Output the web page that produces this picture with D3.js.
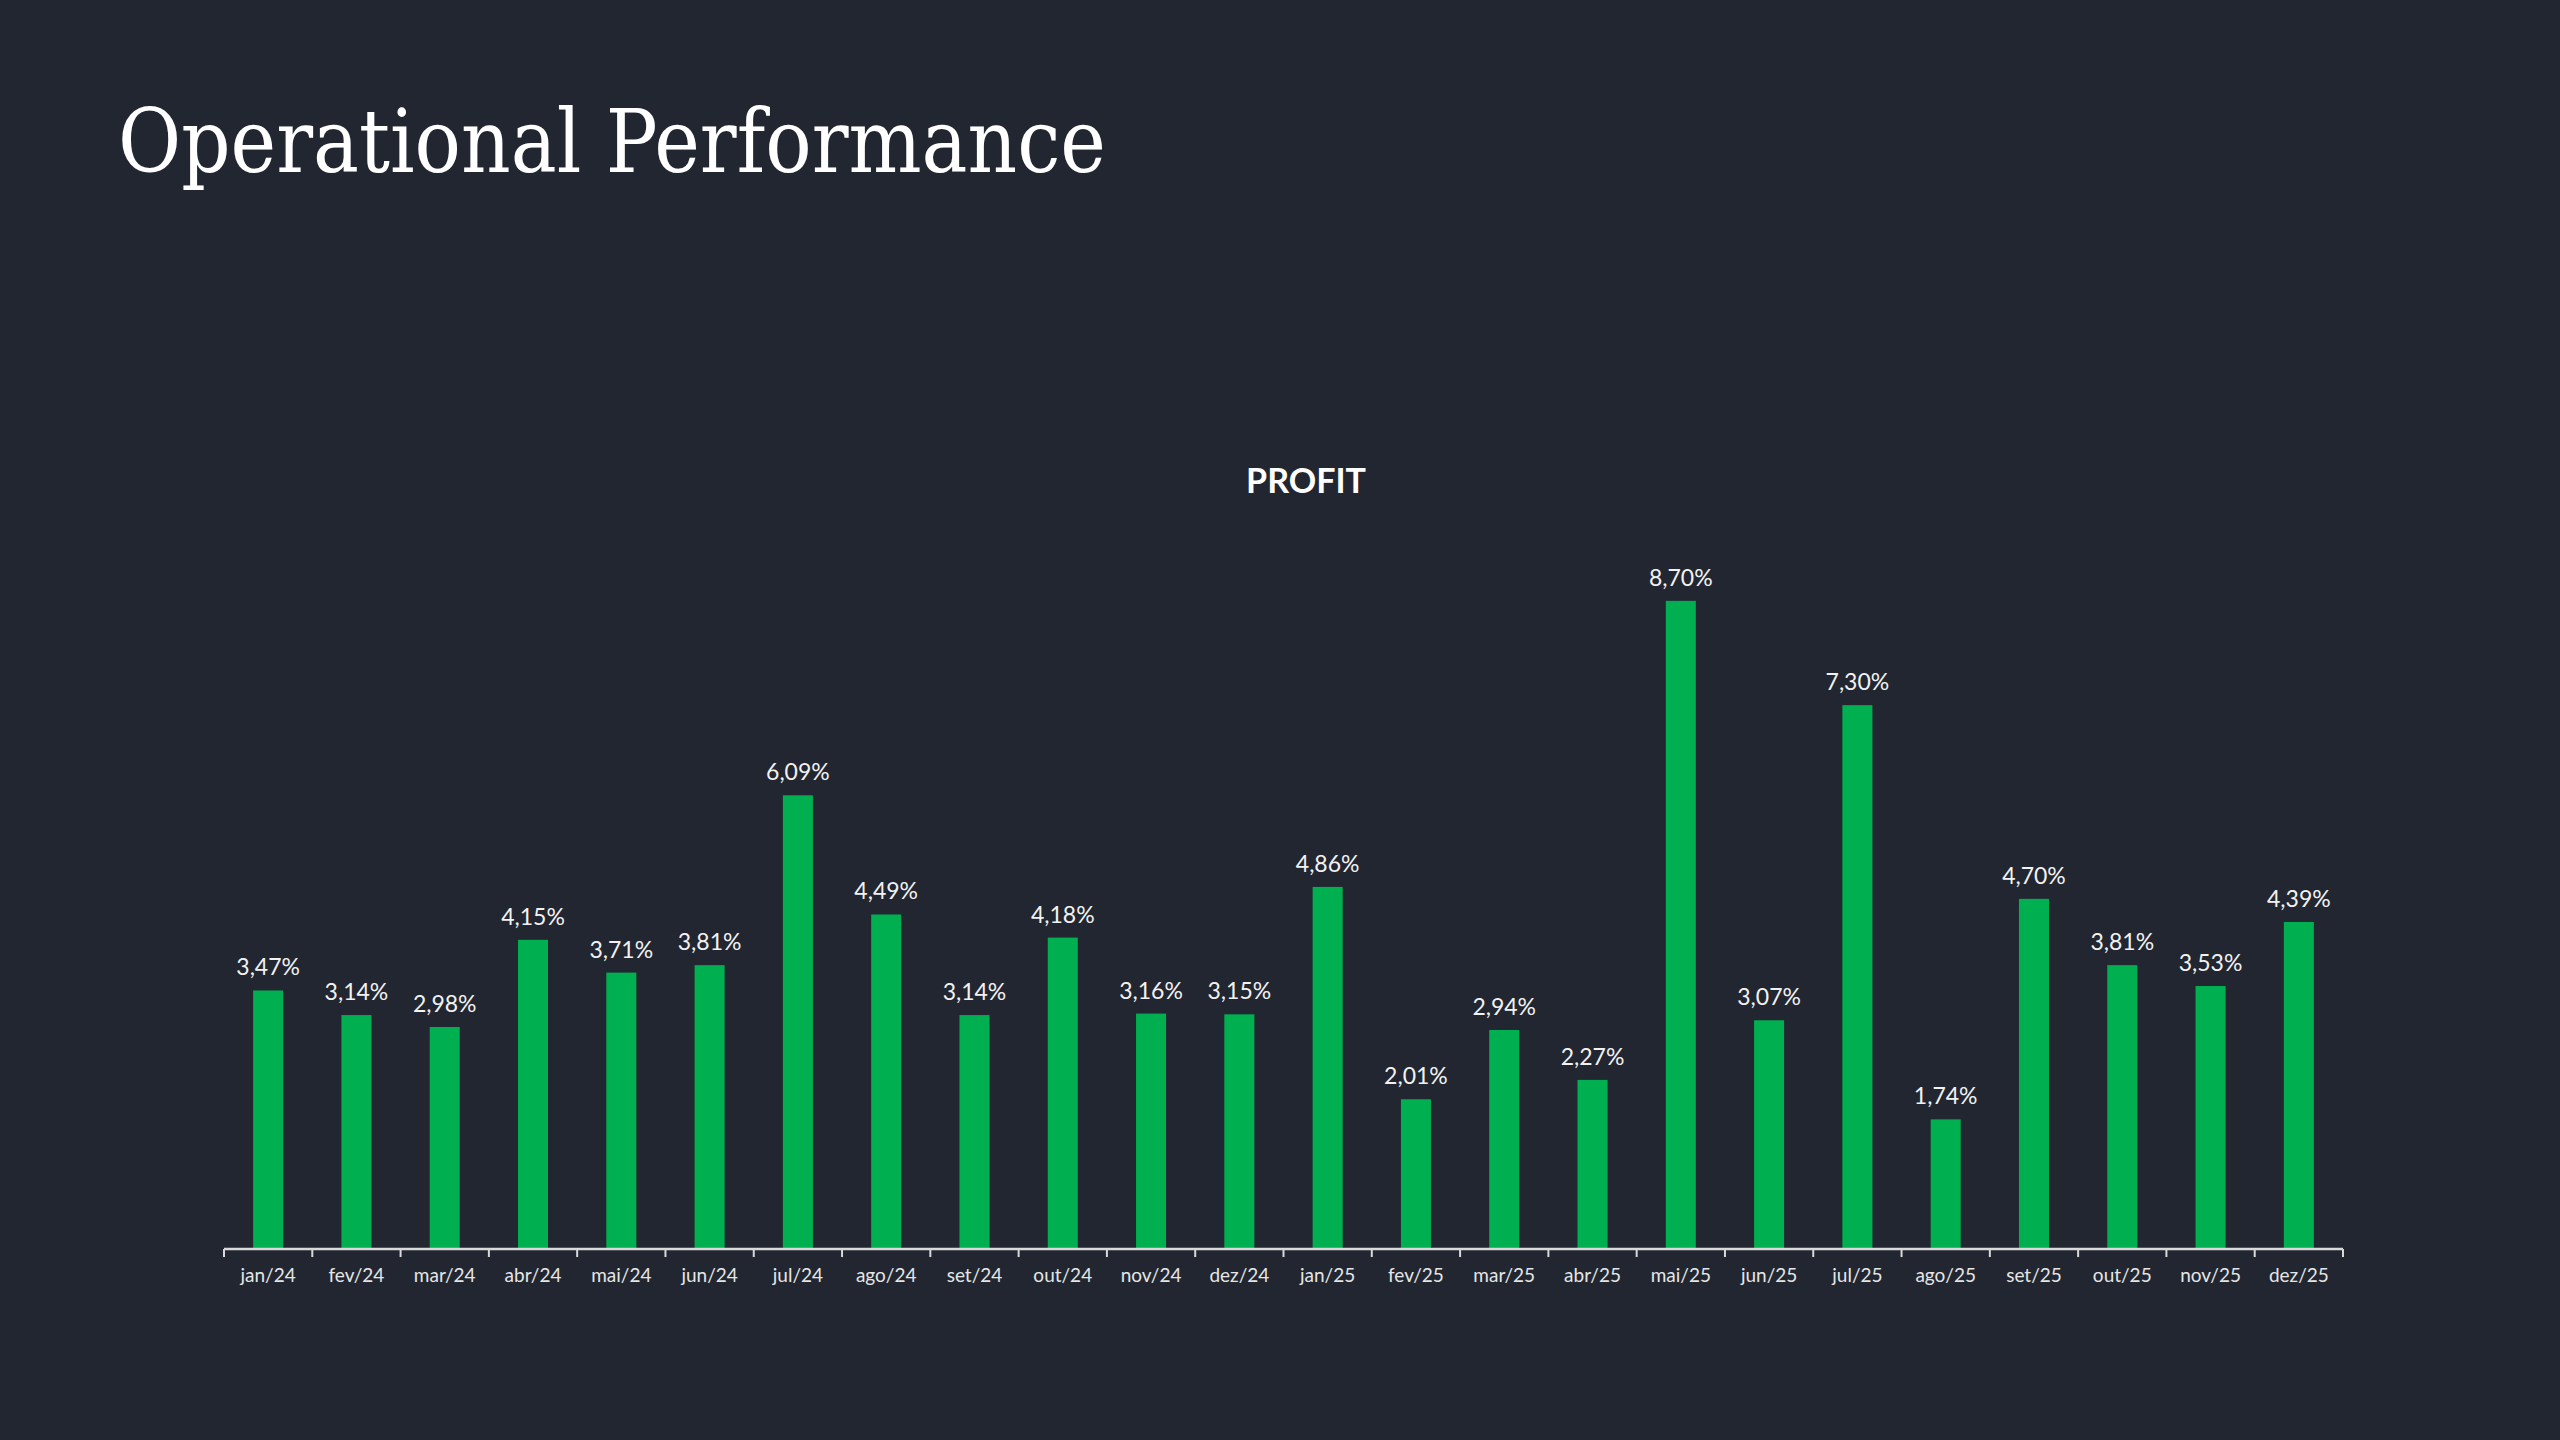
<!DOCTYPE html>
<html>
<head>
<meta charset="utf-8">
<script src="https://cdn.jsdelivr.net/npm/d3@7"></script>
<style>
  html, body { margin: 0; padding: 0; background: #212631; }
  svg { display: block; }
</style>
</head>
<body>
<div id="chart"></div>
<script>
const categories = [
  "jan/24", "fev/24", "mar/24", "abr/24", "mai/24", "jun/24",
  "jul/24", "ago/24", "set/24", "out/24", "nov/24", "dez/24",
  "jan/25", "fev/25", "mar/25", "abr/25", "mai/25", "jun/25",
  "jul/25", "ago/25", "set/25", "out/25", "nov/25", "dez/25"
];
const profit = [
  3.47, 3.14, 2.98, 4.15, 3.71, 3.81,
  6.09, 4.49, 3.14, 4.18, 3.16, 3.15,
  4.86, 2.01, 2.94, 2.27, 8.70, 3.07,
  7.30, 1.74, 4.70, 3.81, 3.53, 4.39
];
const yDomain = [0, 10];

const width = 2560;
const height = 1440;
const plot = { left: 224, right: 2343, bottom: 1249, top: 504 };

const svg = d3.select("#chart")
  .append("svg")
  .attr("width", width)
  .attr("height", height);

svg.append("rect")
  .attr("width", width)
  .attr("height", height)
  .attr("fill", "#212631");

// page title
svg.append("text")
  .attr("x", 118)
  .attr("y", 172)
  .attr("fill", "#ffffff")
  .style("font-family", "'DejaVu Serif', serif")
  .style("font-size", "88px")
  .attr("textLength", 988)
  .attr("lengthAdjust", "spacingAndGlyphs")
  .text("Operational Performance");

// chart title
svg.append("text")
  .attr("x", 1306)
  .attr("y", 493)
  .attr("text-anchor", "middle")
  .attr("fill", "#ffffff")
  .style("font-family", "Lato, 'Open Sans', sans-serif")
  .style("font-weight", "bold")
  .style("font-size", "34px")
  .text("PROFIT");

const x = d3.scaleBand()
  .domain(categories)
  .range([plot.left, plot.right])
  .padding(0);

const y = d3.scaleLinear()
  .domain(yDomain)
  .range([plot.bottom, plot.top]);

const barW = x.bandwidth() * 0.34;
const data = categories.map((c, i) => ({ name: c, value: profit[i] }));

svg.selectAll(".bar")
  .data(data)
  .enter()
  .append("rect")
  .attr("class", "bar")
  .attr("x", (d) => x(d.name) + (x.bandwidth() - barW) / 2)
  .attr("width", barW)
  .attr("y", (d) => y(d.value))
  .attr("height", (d) => y(0) - y(d.value))
  .attr("fill", "#00b050");

svg.selectAll(".label")
  .data(data)
  .enter()
  .append("text")
  .attr("class", "label")
  .attr("x", (d) => x(d.name) + x.bandwidth() / 2)
  .attr("y", (d) => y(d.value) - 15)
  .attr("text-anchor", "middle")
  .attr("fill", "#f2f2f2")
  .style("font-family", "Lato, 'Open Sans', sans-serif")
  .style("font-size", "23px")
  .text((d) => d.value.toFixed(2).replace(".", ",") + "%");

// x axis: ticks on band edges, labels centred
const axis = svg.append("g")
  .attr("transform", `translate(0,${plot.bottom})`);

axis.append("line")
  .attr("x1", plot.left)
  .attr("x2", plot.right)
  .attr("stroke", "#d9d9d9")
  .attr("stroke-width", 2.5);

const edges = categories.map((c) => x(c)).concat([plot.right]);
axis.selectAll(".tick")
  .data(edges)
  .enter()
  .append("line")
  .attr("class", "tick")
  .attr("x1", (d) => d)
  .attr("x2", (d) => d)
  .attr("y1", 0)
  .attr("y2", 8)
  .attr("stroke", "#d9d9d9")
  .attr("stroke-width", 2);

axis.selectAll(".xlabel")
  .data(categories)
  .enter()
  .append("text")
  .attr("class", "xlabel")
  .attr("x", (d) => x(d) + x.bandwidth() / 2)
  .attr("y", 33)
  .attr("text-anchor", "middle")
  .attr("fill", "#e6e6e6")
  .style("font-family", "Lato, 'Open Sans', sans-serif")
  .style("font-size", "19px")
  .text((d) => d);
</script>
</body>
</html>
